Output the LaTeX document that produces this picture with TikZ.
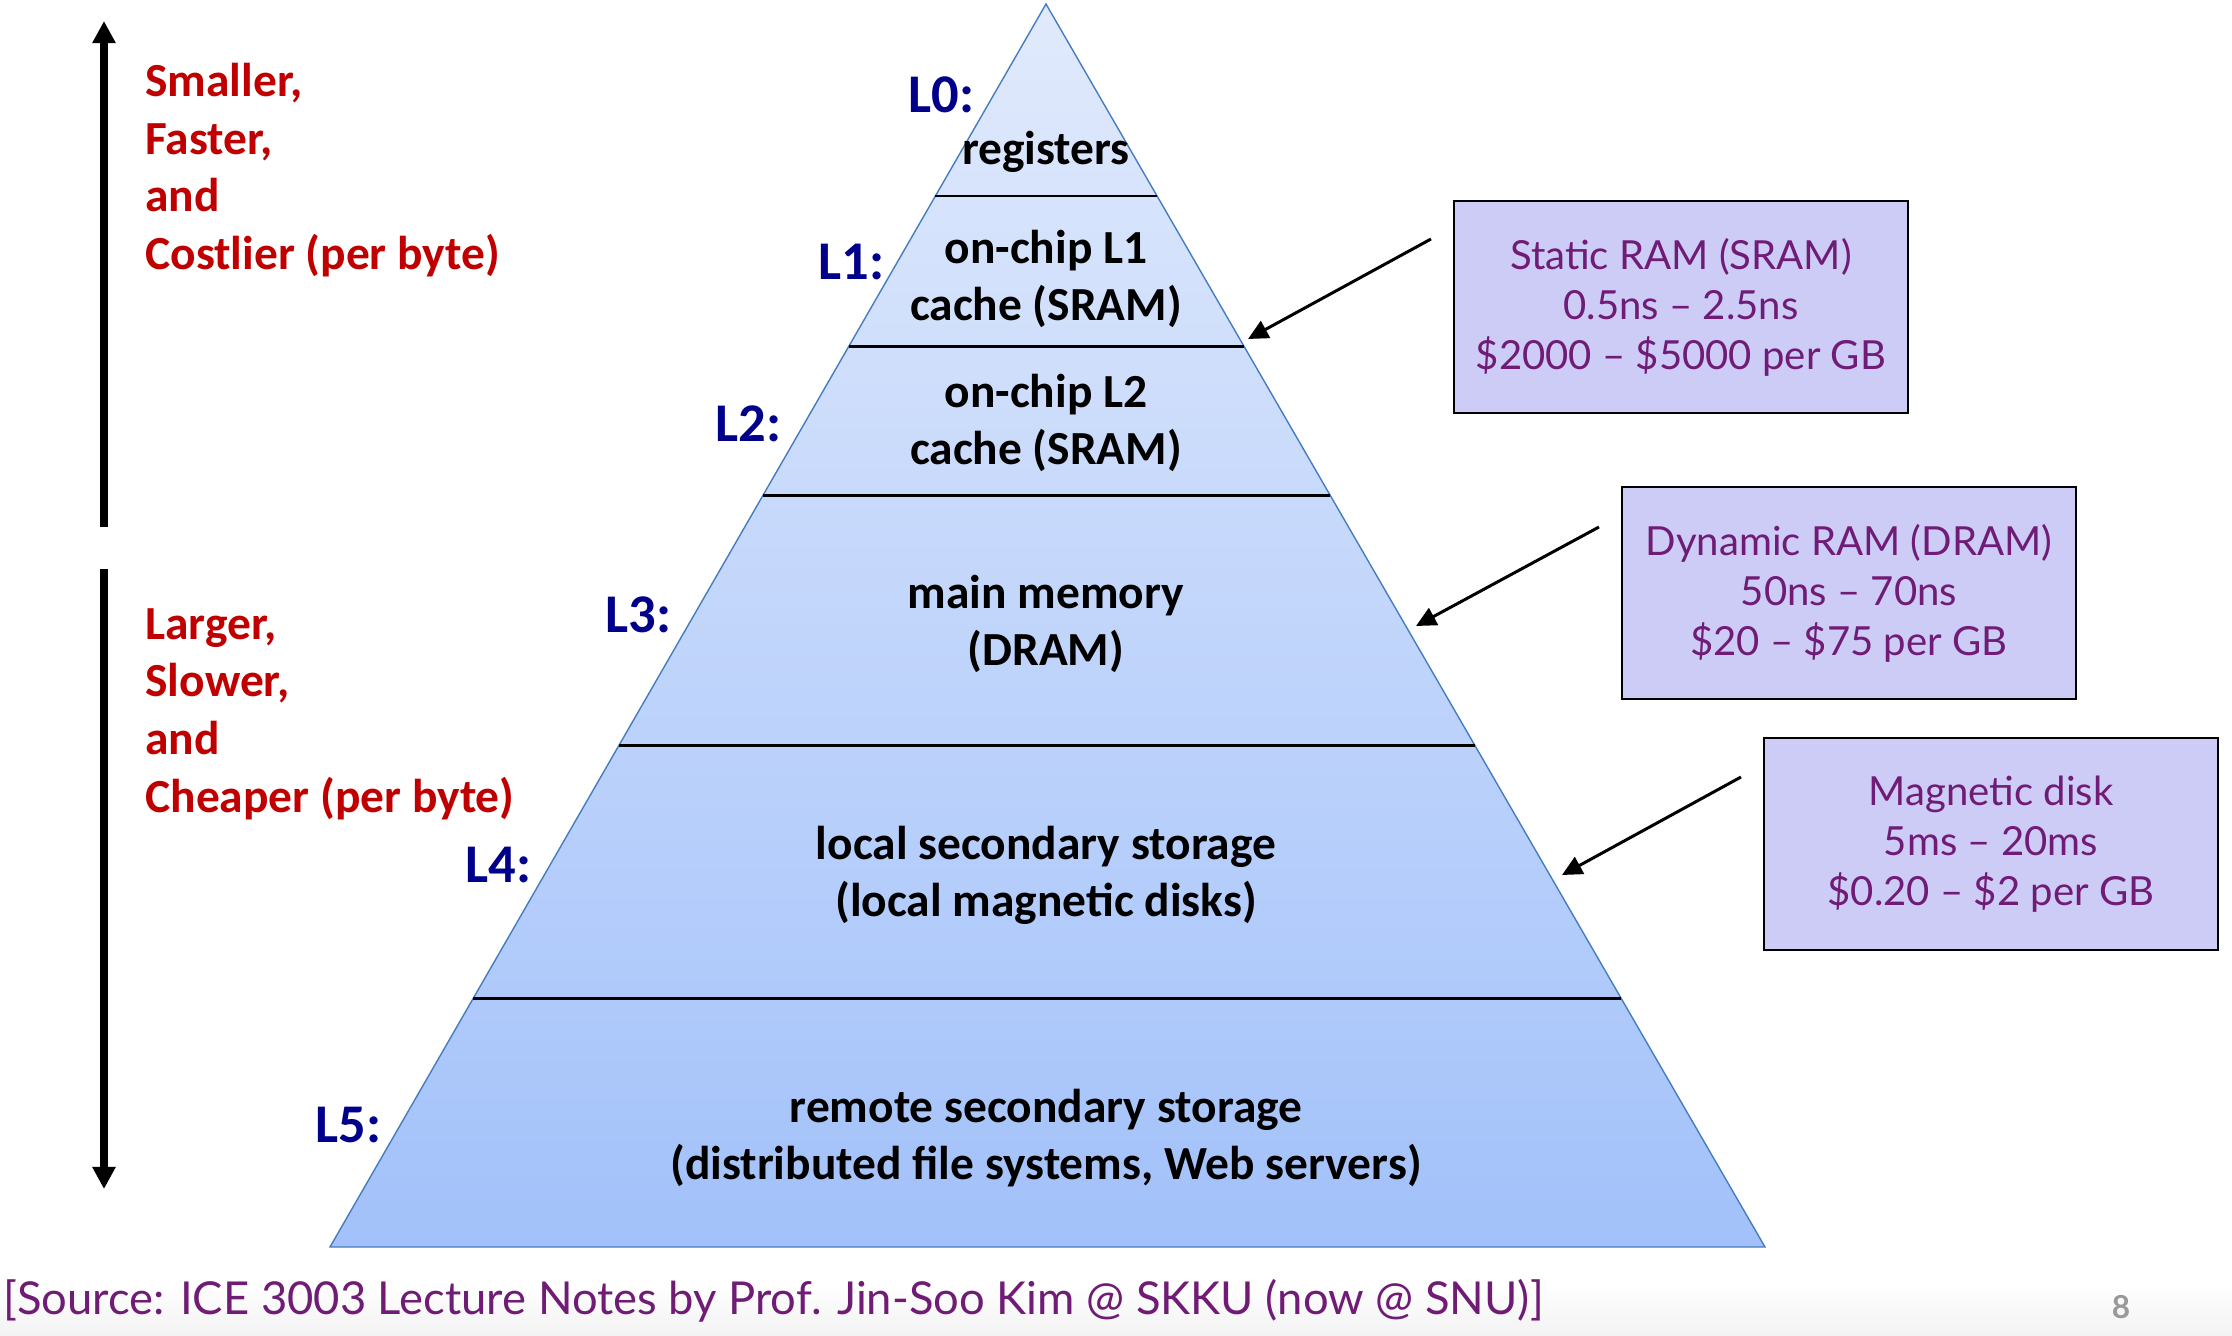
\documentclass[tikz,border=0pt]{standalone}
\usepackage{fontspec}
\setmainfont{Carlito}
\newfontfamily\gillfont{Lato}
\usetikzlibrary{arrows.meta,positioning}

\definecolor{levelblue}{RGB}{0,0,139}
\definecolor{slogan}{RGB}{192,0,0}
\definecolor{notepurple}{RGB}{112,28,118}
\definecolor{notefill}{RGB}{204,204,246}
\definecolor{pyrtop}{RGB}{225,234,252}
\definecolor{pyrbot}{RGB}{162,193,250}
\definecolor{pyredge}{RGB}{70,125,190}

\begin{document}
\begin{tikzpicture}[x=0.01cm,y=-0.01cm,>=Triangle,
  tier text/.style={font=\fontsize{13.5}{16.2}\selectfont\bfseries, align=center},
  level label/.style={font=\fontsize{15.5}{18}\selectfont\bfseries, text=levelblue, anchor=east},
  slogan text/.style={font=\fontsize{13.5}{16.4}\selectfont\bfseries, text=slogan, anchor=west, align=left},
  note box/.style={draw, line width=0.6pt, fill=notefill, text=notepurple, align=center,
    font=\gillfont\fontsize{11.4}{14.2}\selectfont, minimum width=4.53cm, minimum height=2.12cm},
  note arrow/.style={-{Triangle[width=0.19cm,length=0.2cm]}, line width=0.85pt},
  side arrow/.style={-{Triangle[width=0.22cm,length=0.22cm]}, line width=2pt},
  tier line/.style={line width=0.85pt}]

  \useasboundingbox (0,0) rectangle (2232,1336);
  \shade[top color=white, bottom color=black!5] (0,1285) rectangle (2232,1336);

  % pyramid
  \coordinate (apex) at (1046,4);
  \coordinate (baseL) at (330,1247);
  \coordinate (baseR) at (1765,1247);
  \shade[top color=pyrtop, bottom color=pyrbot] (apex) -- (baseL) -- (baseR) -- cycle;
  \draw[pyredge, line width=0.4pt] (apex) -- (baseL) -- (baseR) -- cycle;
  \foreach \yy in {196,346,495,745,998}
    \draw[tier line] ({1046-0.576*(\yy-4)},\yy) -- ({1046+0.5785*(\yy-4)},\yy);

  \node[tier text] (reg) at (1046,152) {registers};
  \node[tier text] (l1) at (1046,279) {on-chip L1\\cache (SRAM)};
  \node[tier text] (l2) at (1046,423) {on-chip L2\\cache (SRAM)};
  \node[tier text] (mem) at (1046,624) {main memory\\(DRAM)};
  \node[tier text] (disk) at (1046,875) {local secondary storage\\(local magnetic disks)};
  \node[tier text] (remote) at (1046,1138) {remote secondary storage\\(distributed file systems, Web servers)};

  \node[level label] (L0) at (987,95) {L0:};
  \node[level label] (L1) at (897,262) {L1:};
  \node[level label] (L2) at (794,424) {L2:};
  \node[level label] (L3) at (684,615) {L3:};
  \node[level label] (L4) at (544,865) {L4:};
  \node[level label] (L5) at (394,1125) {L5:};

  % left side
  \node[slogan text] (small) at (133,170) {Smaller,\\Faster,\\and\\Costlier (per byte)};
  \node[slogan text] (large) at (133,714) {Larger,\\Slower,\\and\\Cheaper (per byte)};
  \coordinate (upfrom) at (104,527);
  \coordinate (upto) at (104,21);
  \coordinate (downfrom) at (104,569);
  \coordinate (downto) at (104,1189);
  \draw[side arrow] (upfrom) -- (upto);
  \draw[side arrow] (downfrom) -- (downto);

  % notes
  \node[note box] (sram) at (1681,307) {Static RAM (SRAM)\\0.5ns – 2.5ns\\\$2000 – \$5000 per GB};
  \node[note box] (dram) at (1849,593) {Dynamic RAM (DRAM)\\50ns – 70ns\\\$20 – \$75 per GB};
  \node[note box] (mag) at (1991,844) {Magnetic disk\\5ms – 20ms\\\$0.20 – \$2 per GB};

  \coordinate (sramtail) at (1431,239);
  \coordinate (sramtip) at (1248,339);
  \coordinate (dramtail) at (1599,527);
  \coordinate (dramtip) at (1416,626);
  \coordinate (magtail) at (1741,777);
  \coordinate (magtip) at (1562,875);
  \draw[note arrow] (sramtail) -- (sramtip);
  \draw[note arrow] (dramtail) -- (dramtip);
  \draw[note arrow] (magtail) -- (magtip);

  % footer
  \node[anchor=west, text=notepurple, font=\gillfont\fontsize{12.9}{16}\selectfont, inner sep=0pt] (src) at (3,1301)
    {[Source: ICE 3003 Lecture Notes by Prof. Jin-Soo Kim @ SKKU (now @ SNU)]};
  \node[text=black!40, font=\gillfont\fontsize{9}{10}\selectfont\bfseries] (page) at (2121,1307) {8};
\end{tikzpicture}
\end{document}
